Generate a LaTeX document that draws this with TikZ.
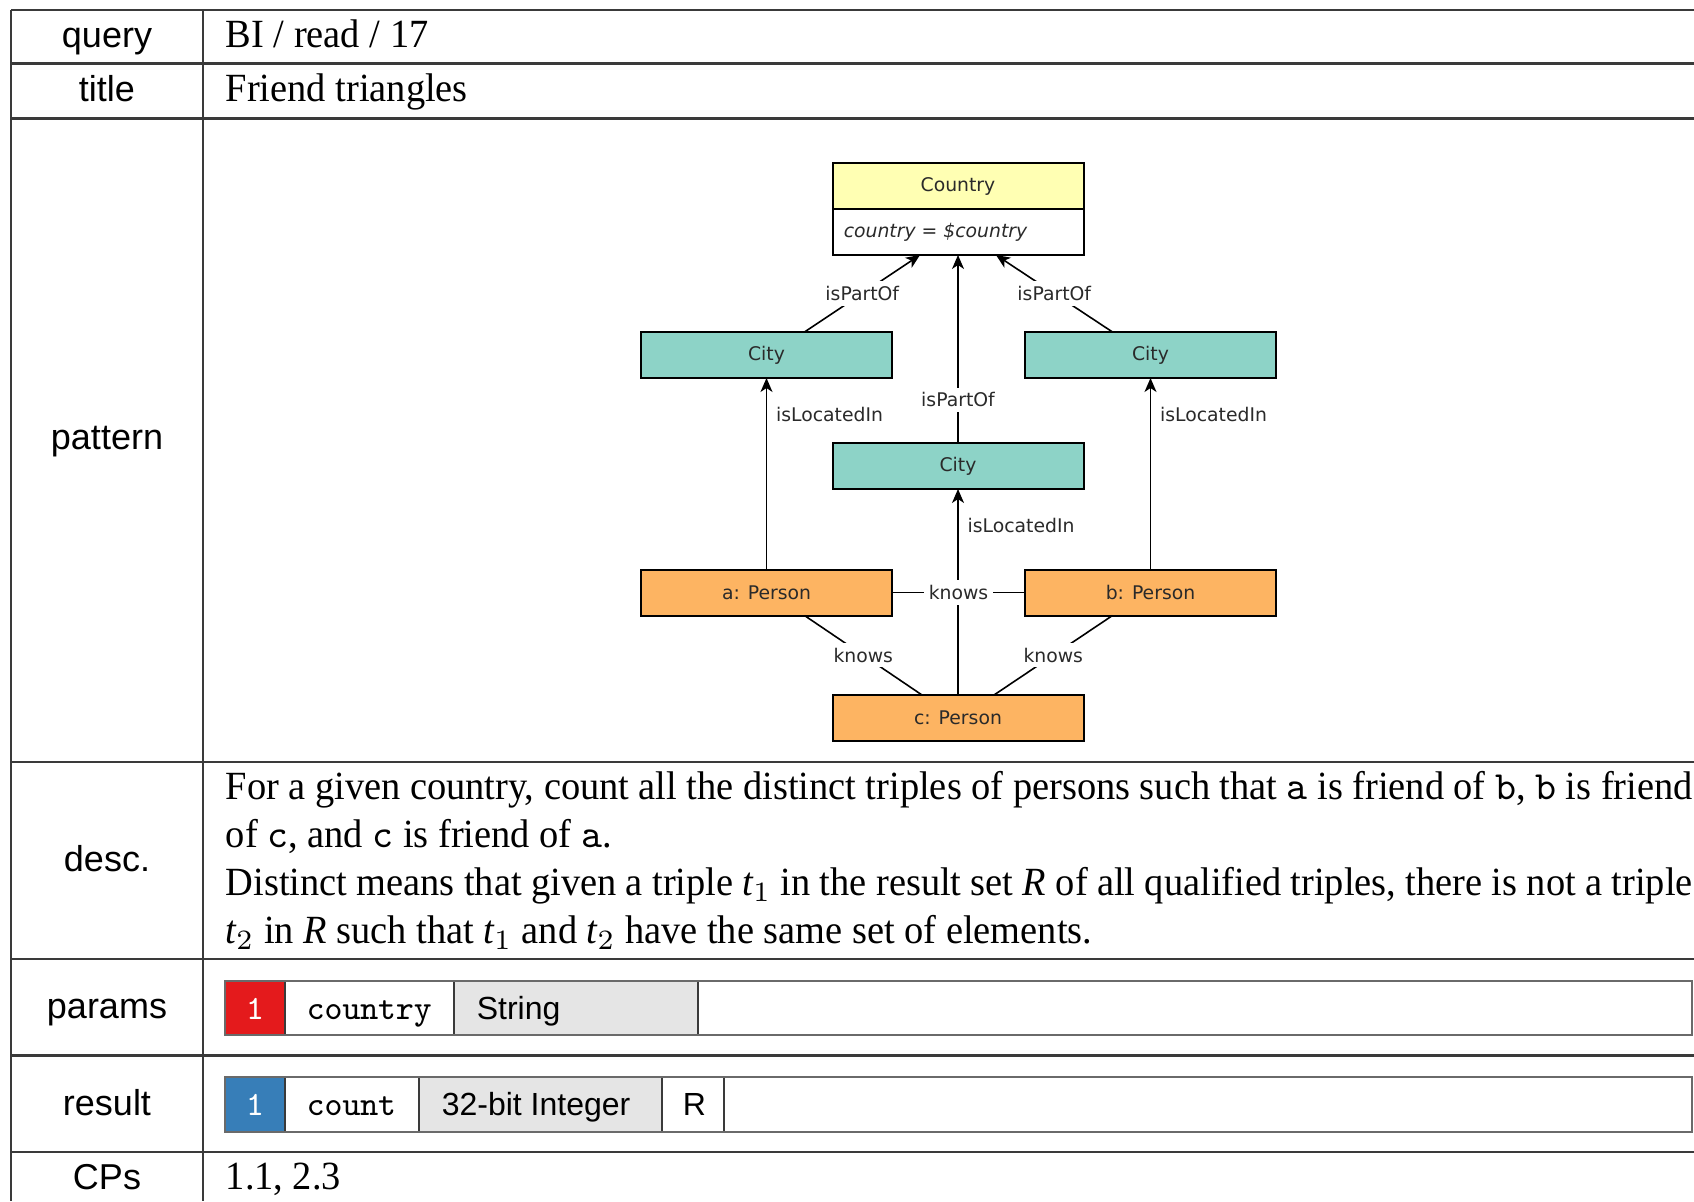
\documentclass[tikz,border=0pt]{standalone}
\usepackage{fontspec}
\setmainfont[FakeStretch=0.96]{Liberation Serif}
\setsansfont{Liberation Sans}
\newfontfamily\diagfont{DejaVu Sans}
\usetikzlibrary{arrows.meta,calc}

\definecolor{ctryfill}{HTML}{FFFFB3}
\definecolor{cityfill}{HTML}{8DD3C7}
\definecolor{personfill}{HTML}{FDB462}
\definecolor{paramred}{HTML}{E41A1C}
\definecolor{resblue}{HTML}{377EB8}
\definecolor{typegray}{HTML}{E5E5E5}
\definecolor{rulegray}{HTML}{3A3A3A}
\definecolor{boxgray}{HTML}{6A6A6A}
\definecolor{diagtext}{HTML}{2A2A2A}

\begin{document}
\begin{tikzpicture}[x=0.25pt,y=-0.25pt,
  rule/.style={draw=rulegray,line width=0.55pt},
  rowlabel/.style={anchor=base,font=\sffamily\fontsize{9}{10}\selectfont,inner sep=0pt},
  cell/.style={anchor=base west,font=\fontsize{10}{12}\selectfont,inner sep=0pt},
  ttcell/.style={anchor=base west,font=\ttfamily\fontsize{8.5}{10}\selectfont,inner sep=0pt},
  sfcell/.style={anchor=base west,font=\sffamily\fontsize{8}{10}\selectfont,inner sep=0pt},
  idx/.style={anchor=base,text=white,font=\ttfamily\fontsize{8.5}{10}\selectfont,inner sep=0pt},
  ent/.style={draw=black,line width=0.5pt,minimum width=62.75pt,minimum height=11.5pt,
    inner sep=0pt,outer sep=0pt,text=diagtext,font=\diagfont\fontsize{4.7}{5}\selectfont},
  ctry/.style={ent,fill=ctryfill,minimum height=11.375pt},
  attr/.style={ent,fill=white,minimum height=11.625pt},
  city/.style={ent,fill=cityfill},
  person/.style={ent,fill=personfill},
  edge/.style={line width=0.4pt},
  arr/.style={edge,-{Stealth[length=3.5pt,width=3pt,inset=1pt]}},
  elbl/.style={fill=white,inner sep=1.2pt,text=diagtext,font=\diagfont\fontsize{4.7}{5}\selectfont},
  slbl/.style={anchor=west,inner sep=1.2pt,xshift=1pt,text=diagtext,font=\diagfont\fontsize{4.7}{5}\selectfont}
]
\fill[white] (0,0) rectangle (1694,1201);
\useasboundingbox (0,0) rectangle (1694,1201);

% ---- table rules ----
\foreach \yy in {10,63.5,118.5,762,959,1055.5,1152}
  \draw[rule] (11,\yy) -- (1694,\yy);
\draw[rule] (11,10) -- (11,1201);
\draw[rule] (203,10) -- (203,1201);

% ---- row labels ----
\node[rowlabel] (lq) at (107,47)   {query};
\node[rowlabel] (lt) at (107,101)  {title};
\node[rowlabel] (lp) at (107,449)  {pattern};
\node[rowlabel] (ld) at (107,871)  {desc.};
\node[rowlabel] (lpa) at (107,1018) {params};
\node[rowlabel] (lr) at (107,1115) {result};
\node[rowlabel] (lc) at (107,1189) {CPs};

% ---- simple cells ----
\node[cell] (vq) at (225,47)  {BI / read / 17};
\node[cell] (vt) at (225,101) {Friend triangles};
\node[cell] (vc) at (225,1189) {1.1, 2.3};

% ---- description ----
\node[cell] (d1) at (225,799) {\makebox[366.75pt][s]{For a given country, count all the distinct triples of persons such that \texttt{a} is friend of \texttt{b}, \texttt{b} is friend}};
\node[cell] (d2) at (225,847) {of \texttt{c}, and \texttt{c} is friend of \texttt{a}.};
\node[cell] (d3) at (225,895) {\makebox[366.75pt][s]{Distinct means that given a triple {\itshape t}$_1$ in the result set \textit{R} of all qualified triples, there is not a triple}};
\node[cell] (d4) at (225,943) {{\itshape t}$_2$ in \textit{R} such that {\itshape t}$_1$ and {\itshape t}$_2$ have the same set of elements.};

% ---- parameter bar ----
\fill[paramred] (225,981) rectangle (285,1035);
\fill[typegray] (454,981) rectangle (698,1035);
\draw[rulegray,line width=0.4pt] (285,981) -- (285,1035) (454,981) -- (454,1035) (698,981) -- (698,1035);
\draw[boxgray,line width=0.6pt] (225,981) rectangle (1692,1035);
\node[idx] (p1) at (255,1019) {1};
\node[ttcell] (pn) at (306,1019) {country};
\node[sfcell] (pt) at (476,1019) {String};

% ---- result bar ----
\fill[resblue] (225,1077) rectangle (285,1132);
\fill[typegray] (419,1077) rectangle (662,1132);
\draw[rulegray,line width=0.4pt] (285,1077) -- (285,1132) (419,1077) -- (419,1132) (662,1077) -- (662,1132) (724,1077) -- (724,1132);
\draw[boxgray,line width=0.6pt] (225,1077) rectangle (1692,1132);
\node[idx] (r1) at (255,1115) {1};
\node[ttcell] (rn) at (306,1115) {count};
\node[sfcell] (rt) at (441,1115) {32-bit Integer};
\node[sfcell] (rk) at (682,1115) {R};

% ---- pattern graph ----
\node[ctry] (ctry) at (958,186) {Country};
\node[attr] (cattr) at (958,231.75) {};
\node[anchor=west,inner sep=0pt,text=diagtext,font=\diagfont\itshape\fontsize{4.7}{5}\selectfont] (cattrtxt) at (843,232) {country = \$country};

\node[city] (cl) at (766.5,355) {City};
\node[city] (cr) at (1150.5,355) {City};
\node[city] (cc) at (958,466) {City};
\node[person] (pa) at (766.5,592.5) {a: Person};
\node[person] (pb) at (1150.5,592.5) {b: Person};
\node[person] (pc) at (958,718) {c: Person};

\draw[arr] ($(cl.north)+(38,0)$) -- node[elbl] {isPartOf} ($(cattr.south)+(-38,0)$);
\draw[arr] ($(cr.north)+(-38,0)$) -- node[elbl] {isPartOf} ($(cattr.south)+(38,0)$);
\draw[arr] (cc.north) -- node[elbl,pos=0.23] {isPartOf} (cattr.south);

\draw[arr] (pa.north) -- node[slbl,pos=0.81] {isLocatedIn} (cl.south);
\draw[arr] (pb.north) -- node[slbl,pos=0.81] {isLocatedIn} (cr.south);
\draw[arr] (pc.north) -- node[slbl,pos=0.825] {isLocatedIn} (cc.south);

\draw[edge] (pa.east) -- node[elbl] {knows} (pb.west);
\draw[edge] ($(pa.south)+(38,0)$) -- node[elbl] {knows} ($(pc.north)+(-36,0)$);
\draw[edge] ($(pb.south)+(-38,0)$) -- node[elbl] {knows} ($(pc.north)+(36,0)$);
\end{tikzpicture}
\end{document}
